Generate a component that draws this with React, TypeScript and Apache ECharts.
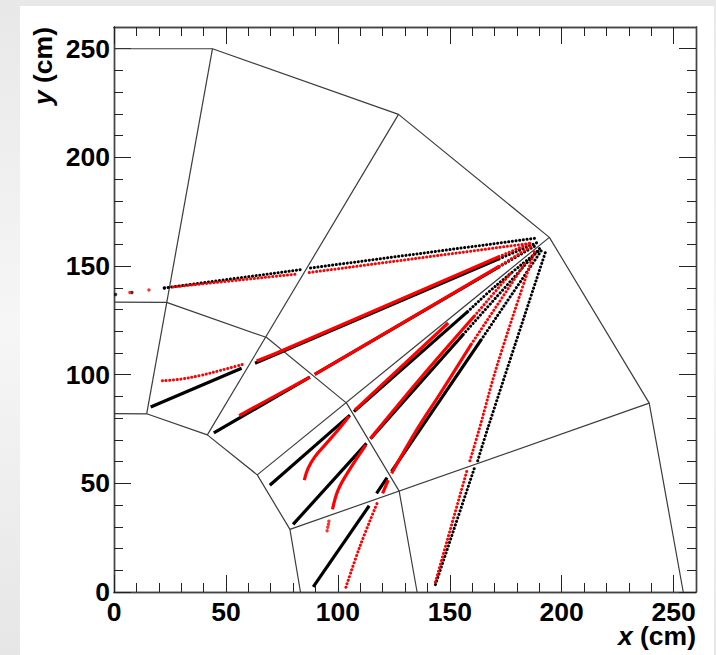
import React, { useEffect, useRef } from "react";
import * as echarts from "echarts";

type P = [number, number];

const majorTicks = [0, 50, 100, 150, 200, 250];
const minorTicks = [10, 20, 30, 40, 60, 70, 80, 90, 110, 120, 130, 140, 160, 170, 180, 190, 210, 220, 230, 240];

const outerBoundary: P[] = [[0, 250], [44, 250], [127.1, 219.8], [194.5, 163.2], [239.1, 86.9], [254.3, 0]];
const middleBoundary: P[] = [[0, 133.4], [23.5, 133.3], [68.2, 117.1], [103.9, 86.9], [127.4, 46.4], [135.4, 0]];
const innerBoundary: P[] = [[0, 82.1], [14.6, 82], [41.7, 72.3], [64, 53.9], [78.6, 28.8], [83.3, 0]];
const radialA: P[] = [[14.6, 82], [44, 250]];
const radialB: P[] = [[41.7, 72.3], [127.1, 219.8]];
const radialC: P[] = [[64, 53.9], [194.5, 163.2]];
const radialD: P[] = [[78.6, 28.8], [239.1, 86.9]];

const blackSolid: P[][] = [
  [[16.4, 85.1], [57, 103]],
  [[63, 105.3], [172, 153.3]],
  [[44.6, 73.2], [87.5, 98.9]],
  [[89.7, 100.2], [172, 149.6]],
  [[69.6, 49.1], [105.4, 81.4]],
  [[107.2, 83], [158, 129]],
  [[80, 31.1], [112.8, 68.4]],
  [[114.6, 70.5], [156, 118.5]],
  [[89, 2.4], [114, 39.7]],
  [[117.3, 45.4], [122, 52.6]],
  [[124, 55.5], [164, 116]],
];
const blackDotted: P[][] = [
  [[22.5, 139.9], [83.8, 148.4]],
  [[87.8, 149.1], [188.3, 162.8]],
  [[172, 153.3], [190, 161.2]],
  [[172, 149.6], [188.5, 159.5]],
  [[158, 129], [170.7, 141], [190, 157.2]],
  [[156, 118.5], [190.5, 158.5]],
  [[164, 116], [191.5, 158]],
  [[143.6, 3.4], [161, 57]],
  [[162.5, 60.4], [167, 75.4], [193, 157.2]],
];
const redSolid: P[][] = [
  [[63.7, 106.3], [73.4, 110.3], [172, 154.3]],
  [[55.9, 81.2], [87.5, 98.9]],
  [[89.7, 100.2], [172, 149.8]],
  [[85, 51.5], [86.7, 56.9], [89.7, 62.2], [94.2, 67.6], [99.4, 73.7], [105, 80.9]],
  [[107.6, 83.7], [149.3, 123.8]],
  [[97.6, 38], [100.1, 46.9], [104.6, 55.3], [112.5, 67.6]],
  [[114.6, 70.7], [137, 98.5], [161, 127]],
  [[120, 45.4], [122.5, 51.5]],
  [[124, 54.6], [135.7, 75.4], [145.5, 91], [159.6, 114]],
];
const redDotted: P[][] = [
  [[26.5, 140.4], [80.8, 146.2]],
  [[87.2, 147], [187, 160.6]],
  [[21.6, 97.2], [29.5, 97.9], [38.4, 99.6], [47.3, 101.9], [57.7, 104.8]],
  [[172, 154.3], [187, 161]],
  [[172, 149.8], [187, 159.5]],
  [[161, 127], [178.1, 147.7]],
  [[103.6, 2.2], [109.8, 20.8], [117.5, 40.8]],
  [[159.6, 114], [184, 151.9]],
  [[143.6, 4.6], [158, 57]],
  [[159, 60.4], [163.3, 75.4], [171.4, 105.1], [187.8, 156.5]],
];
const blackIsolated: P[] = [[0.7, 136.9], [8, 137.8], [22.5, 139.9]];
const redIsolated: P[] = [[7.1, 137.8], [15.6, 139], [96, 32.6], [95.8, 31.2], [95.5, 29.8], [95.2, 28.2]];

const FONT = '"Liberation Sans", Arial, sans-serif';

const boundarySeries = [outerBoundary, middleBoundary, innerBoundary, radialA, radialB, radialC, radialD].map((data) => ({
  type: "line", data, symbol: "none", silent: true, z: 2,
  lineStyle: { color: "#3c3c3c", width: 1.2 },
}));
const trackSeries = (segments: P[][], color: string, dotted: boolean, z: number) =>
  segments.map((data) => ({
    type: "line", data, symbol: "none", silent: true, z,
    smooth: data.length > 2 ? 0.4 : false,
    lineStyle: dotted
      ? { color, width: 3, type: [0.1, 3.6], cap: "round" }
      : { color, width: 3.2 },
  }));
const dots = (data: P[], color: string, z: number) => ({
  type: "scatter", data, symbol: "circle", symbolSize: 3.4, silent: true, z, itemStyle: { color },
});

const axisLine = { show: true, onZero: false, lineStyle: { color: "#444", width: 1.4 } };
const makeAxis = (position: string, ticks: number[], length: number, labelled: boolean) => ({
  type: "value", min: 0, max: 260, position, splitLine: { show: false }, axisLine,
  axisTick: { show: true, inside: true, length, customValues: ticks, lineStyle: { color: "#222", width: 1 } },
  minorTick: { show: false },
  axisLabel: labelled
    ? { show: true, customValues: ticks, color: "#000", fontFamily: FONT, fontWeight: "bold", fontSize: 26.5, margin: position === "bottom" ? 6 : 4 }
    : { show: false },
});

export default function App() {
  const ref = useRef<HTMLDivElement>(null);
  useEffect(() => {
    document.body.style.margin = "0";
    const chart = echarts.init(ref.current!, null, { renderer: "svg" });
    chart.setOption({
      animation: false,
      grid: { left: 114, right: 20, top: 27, bottom: 63 },
      xAxis: [
        makeAxis("bottom", majorTicks, 17, true),
        makeAxis("bottom", minorTicks, 9, false),
        makeAxis("top", majorTicks, 17, false),
        makeAxis("top", minorTicks, 9, false),
      ],
      yAxis: [
        makeAxis("left", majorTicks, 17, true),
        makeAxis("left", minorTicks, 9, false),
        makeAxis("right", majorTicks, 17, false),
        makeAxis("right", minorTicks, 9, false),
      ],
      series: [
        ...boundarySeries,
        ...trackSeries(blackSolid, "#000", false, 3),
        ...trackSeries(blackDotted, "#000", true, 3),
        ...trackSeries(redSolid, "#f00", false, 4),
        ...trackSeries(redDotted, "#f00", true, 4),
        dots(blackIsolated, "#000", 3),
        dots(redIsolated, "#f00", 4),
      ],
      graphic: [
        {
          type: "text", x: 696, y: 622, z: 10,
          style: {
            text: "{i|x} (cm)", align: "right", verticalAlign: "top", fill: "#000",
            font: `bold 26.5px ${FONT}`,
            rich: { i: { font: `italic bold 26.5px ${FONT}`, fill: "#000" } },
          },
        },
        {
          type: "text", x: 29, y: 27, rotation: Math.PI / 2, z: 10,
          style: {
            text: "{i|y} (cm)", align: "right", verticalAlign: "top", fill: "#000",
            font: `bold 26.5px ${FONT}`,
            rich: { i: { font: `italic bold 26.5px ${FONT}`, fill: "#000" } },
          },
        },
      ],
    });
    return () => chart.dispose();
  }, []);
  return (
    <div style={{ position: "relative", width: 716, height: 655, overflow: "hidden",
      background: "linear-gradient(180deg,#e8e8e8 0%,#f6f6f6 50%,#e6e6e6 100%)" }}>
      <div style={{ position: "absolute", left: 20, top: 6, width: 694, height: 649, background: "#fff" }} />
      <div ref={ref} style={{ position: "absolute", left: 0, top: 0, width: 716, height: 655 }} />
    </div>
  );
}
